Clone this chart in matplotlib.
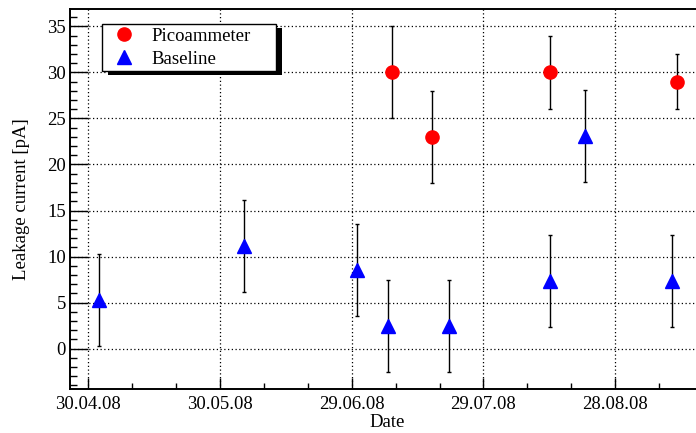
import numpy as np
import matplotlib
matplotlib.use("Agg")
import matplotlib.pyplot as plt
import matplotlib.dates as mdates
from matplotlib.patches import Rectangle

plt.rcParams['font.family'] = ['Liberation Serif', 'DejaVu Serif']

# Data
pico_dates = ["2008-07-08 05:00", "2008-07-17 05:00", "2008-08-13 02:00", "2008-09-11 00:00"]
pico_vals = [30.0, 23.0, 30.0, 29.0]
pico_errs = [5.0, 5.0, 4.0, 3.0]

base_dates = ["2008-05-02 10:00", "2008-06-04 12:00", "2008-06-30 07:00", "2008-07-07 07:00",
              "2008-07-21 05:00", "2008-08-13 05:00", "2008-08-21 02:00", "2008-09-10 00:00"]
base_vals = [5.3, 11.1, 8.5, 2.4, 2.5, 7.3, 23.1, 7.3]
base_errs = [5.0, 5.0, 5.0, 5.0, 5.0, 5.0, 5.0, 5.0]

tick_dates = ["2008-04-30", "2008-05-30", "2008-06-29", "2008-07-29", "2008-08-28"]
tick_labels = ["30.04.08", "30.05.08", "29.06.08", "29.07.08", "28.08.08"]
x_range = ["2008-04-25 20:00", "2008-09-15 09:36"]
y_range = (-4.4, 36.9)

FS = 13.5


def to_num(d):
    return mdates.date2num(np.array(d, dtype="datetime64[m]"))


fig = plt.figure(figsize=(6.96, 4.33), dpi=100)
ax = fig.add_axes([70 / 696, 1 - 389 / 433, 1 - 70 / 696, (389 - 9) / 433])

err_kw = dict(ecolor="black", elinewidth=1.0, capsize=1.6, capthick=1.0, linestyle="none")
eb1 = ax.errorbar(to_num(pico_dates), pico_vals, yerr=pico_errs, fmt="o", color="red",
                  markersize=9.5, label="Picoammeter", zorder=3, **err_kw)
eb2 = ax.errorbar(to_num(base_dates), base_vals, yerr=base_errs, fmt="^", color="blue",
                  markersize=10, label="Baseline", zorder=3, **err_kw)

# Axis ticks
ticks = to_num(tick_dates)
xlim = to_num(x_range)
ax.set_xticks(ticks)
ax.set_xticklabels(tick_labels)
minor = np.arange(ticks[0] - 10, xlim[1], 10.0)
ax.set_xticks(minor[minor > xlim[0]], minor=True)
ax.set_yticks(np.arange(0, 36, 5))
ax.set_yticks(np.arange(-4, 37, 1), minor=True)

ax.set_xlim(xlim)
ax.set_ylim(*y_range)

ax.tick_params(axis="both", which="both", direction="in", labelsize=FS, colors="black")
ax.tick_params(axis="y", which="major", length=13, width=1.0, pad=3)
ax.tick_params(axis="y", which="minor", length=5, width=1.0)
ax.tick_params(axis="x", which="major", length=8, width=1.0, pad=5)
ax.tick_params(axis="x", which="minor", length=4.5, width=1.0)
ax.tick_params(top=False, right=False)

ax.grid(True, which="major", color="black", linestyle=(0, (1, 2)), linewidth=0.9)

for s in ["left", "bottom", "top"]:
    ax.spines[s].set_linewidth(1.4)
ax.spines["right"].set_visible(False)

ax.set_xlabel("Date", fontsize=FS)
ax.xaxis.set_label_coords((387 - 70) / 626, -0.065)
ax.set_ylabel("Leakage current [pA]", fontsize=FS)
ax.yaxis.set_label_coords((30 - 70) / 626, 0.5)

# Legend (markers only) with a solid ROOT-style shadow
leg = ax.legend([eb1[0], eb2[0]], ["Picoammeter", "Baseline"],
                loc="upper left", mode="expand",
                bbox_to_anchor=(102 / 696, 1 - 70 / 433, 174 / 696, 46 / 433),
                bbox_transform=fig.transFigure, fontsize=FS, frameon=True, fancybox=False,
                borderaxespad=0, borderpad=0.2, handletextpad=0.55, labelspacing=0.3,
                handlelength=1.9)
leg.get_frame().set_edgecolor("black")
leg.get_frame().set_linewidth(1.0)
leg.get_frame().set_alpha(1)
leg.set_zorder(10)
fig.canvas.draw()
bb = leg.get_window_extent()
shadow = Rectangle((bb.x0 + 6, bb.y0 - 4), bb.width, bb.height, transform=None,
                   facecolor="black", edgecolor="none", zorder=9, clip_on=False)
ax.add_artist(shadow)

fig.savefig("out.png", dpi=100)
